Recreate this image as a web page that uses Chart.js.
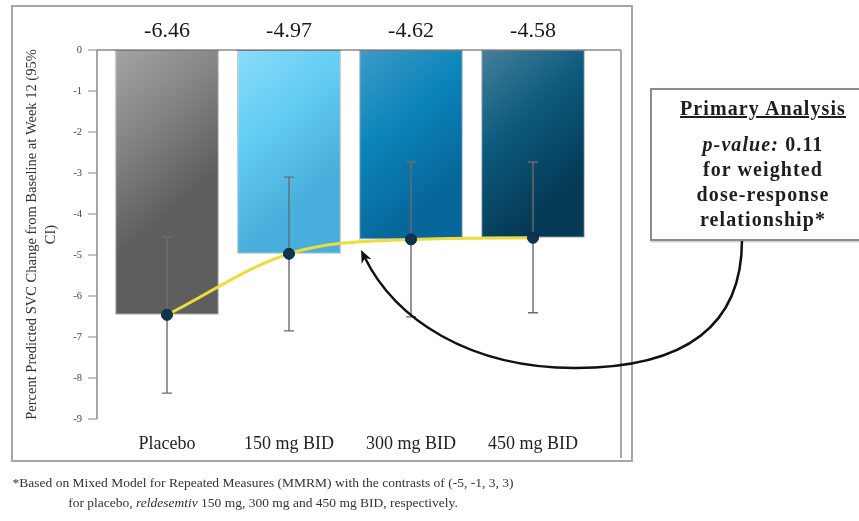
<!DOCTYPE html>
<html>
<head>
<meta charset="utf-8">
<script src="https://cdn.jsdelivr.net/npm/chart.js@4"></script>
<style>
  body { margin: 0; width: 859px; height: 521px; position: relative; overflow: hidden; background: #fff;
         font-family: "Liberation Serif", "Times New Roman", serif; }
  #frame { position: absolute; left: 11px; top: 5px; width: 618px; height: 453px; border: 2px solid #a6a6a6; }
  #wrap { position: absolute; left: 0; top: 0; width: 859px; height: 521px; }
  #box { position: absolute; left: 650px; top: 88px; width: 222px; height: 149px; border: 2px solid #8c8c8c;
         background: #fff; text-align: center; font-weight: bold; font-size: 20px; letter-spacing: 1.1px; color: #1e1e1e;
         box-shadow: 1px 1px 2px rgba(0,0,0,0.25); }
  #box .ttl { text-decoration: underline; margin-top: 5px; line-height: 26px; margin-bottom: 11px; }
  #box .ln { line-height: 25px; }
  #note { position: absolute; left: 0; width: 526px; top: 473px; text-align: center; font-size: 13.5px; line-height: 20px; color: #333; }
</style>
</head>
<body>
<div id="frame"></div>
<div id="wrap"><canvas id="chart" width="859" height="521"></canvas></div>
<div id="box">
  <div class="ttl">Primary Analysis</div>
  <div class="ln"><i>p-value:</i> 0.11</div>
  <div class="ln">for weighted</div>
  <div class="ln">dose-response</div>
  <div class="ln">relationship*</div>
</div>
<div id="note">*Based on Mixed Model for Repeated Measures (MMRM) with the contrasts of (-5, -1, 3, 3)<br>
for placebo, <i>reldesemtiv</i> 150 mg, 300 mg and 450 mg BID, respectively.</div>
<script>
var categories = ['Placebo', '150 mg BID', '300 mg BID', '450 mg BID'];
var meanChange = [-6.46, -4.97, -4.62, -4.58];
var ciLower = [-8.37, -6.85, -6.51, -6.41];
var ciUpper = [-4.56, -3.10, -2.73, -2.73];
var yMin = -9;
var yMax = 0;

// light -> mid -> dark, left to right
var barShades = [
  ['#a4a4a4', '#838383', '#5e5e5e'],
  ['#8adcf9', '#62ccf3', '#48aedb'],
  ['#3e9bc7', '#0b84ba', '#07679a'],
  ['#45809b', '#0c5a7d', '#053b57']
];

function barGradient(ctx) {
  const chart = ctx.chart;
  const i = ctx.dataIndex;
  const shades = barShades[i];
  if (!chart.chartArea || !chart.scales.x) return shades[1];
  const x = chart.scales.x.getPixelForValue(i);
  const top = chart.scales.y.getPixelForValue(0);
  const g = chart.ctx.createLinearGradient(x - 52, top, x + 52, top + 120);
  g.addColorStop(0, shades[0]);
  g.addColorStop(0.5, shades[1]);
  g.addColorStop(1, shades[2]);
  return g;
}

const decor = {
  id: 'decor',
  beforeDatasetsDraw(chart) {
    const c = chart.ctx;
    const y = chart.scales.y;
    const ax = chart.chartArea.left - 9;
    const y0 = y.getPixelForValue(0);
    c.save();
    c.strokeStyle = '#8a8a8a';
    c.lineWidth = 1.5;
    c.beginPath();
    // y axis line
    c.moveTo(ax, y0);
    c.lineTo(ax, y.getPixelForValue(yMin));
    // zero line across the plot
    c.moveTo(ax, y0);
    c.lineTo(621, y0);
    // right side of plot box
    c.moveTo(621, y0);
    c.lineTo(621, 458);
    c.stroke();
    c.lineWidth = 1.2;
    c.beginPath();
    for (let v = yMax; v >= yMin; v--) {
      const py = y.getPixelForValue(v);
      c.moveTo(ax - 9, py);
      c.lineTo(ax, py);
    }
    c.stroke();
    c.restore();
  },
  afterDatasetDraw(chart, args) {
    if (args.index !== 0) return;
    const c = chart.ctx;
    const x = chart.scales.x;
    const y = chart.scales.y;
    c.save();
    c.strokeStyle = '#6c6c6c';
    c.lineWidth = 1.4;
    for (let i = 0; i < categories.length; i++) {
      const px = x.getPixelForValue(i);
      const lo = y.getPixelForValue(ciLower[i]);
      const hi = y.getPixelForValue(ciUpper[i]);
      c.beginPath();
      c.moveTo(px, lo); c.lineTo(px, hi);
      c.moveTo(px - 5, lo); c.lineTo(px + 5, lo);
      c.moveTo(px - 5, hi); c.lineTo(px + 5, hi);
      c.stroke();
    }
    c.restore();
  },
  afterDraw(chart) {
    const c = chart.ctx;
    const x = chart.scales.x;
    c.save();
    // values above the bars
    c.fillStyle = '#1a1a1a';
    c.font = '22px "Liberation Serif", serif';
    c.textAlign = 'center';
    c.textBaseline = 'middle';
    for (let i = 0; i < categories.length; i++) {
      c.fillText(meanChange[i].toFixed(2), x.getPixelForValue(i), 31);
    }
    // curved arrow from the annotation box
    c.strokeStyle = '#111';
    c.lineWidth = 2.5;
    c.beginPath();
    c.moveTo(742, 240);
    c.bezierCurveTo(742, 330, 680, 368, 575, 368);
    c.bezierCurveTo(470, 368, 395, 320, 364, 256);
    c.stroke();
    const ang = Math.atan2(256 - 320, 364 - 395);
    const tipX = 361, tipY = 250;
    c.fillStyle = '#111';
    c.beginPath();
    c.moveTo(tipX, tipY);
    c.lineTo(tipX - 14 * Math.cos(ang - 0.4), tipY - 14 * Math.sin(ang - 0.4));
    c.lineTo(tipX - 9 * Math.cos(ang), tipY - 9 * Math.sin(ang));
    c.lineTo(tipX - 14 * Math.cos(ang + 0.4), tipY - 14 * Math.sin(ang + 0.4));
    c.closePath();
    c.fill();
    c.restore();
  }
};

new Chart(document.getElementById('chart'), {
  data: {
    labels: categories,
    datasets: [
      {
        type: 'bar',
        data: meanChange,
        backgroundColor: barGradient,
        borderColor: 'rgba(40,40,40,0.35)',
        borderWidth: 1,
        borderSkipped: false,
        barPercentage: 0.85,
        categoryPercentage: 1,
        order: 1
      },
      {
        type: 'line',
        data: meanChange,
        borderColor: '#efdc3c',
        borderWidth: 3,
        cubicInterpolationMode: 'monotone',
        pointRadius: 5.5,
        pointBackgroundColor: '#0d3550',
        pointBorderColor: '#0a2a40',
        pointBorderWidth: 1,
        order: 0
      }
    ]
  },
  options: {
    responsive: false,
    animation: false,
    layout: { padding: { left: 10, top: 50, right: 265, bottom: 62 } },
    plugins: { legend: { display: false }, tooltip: { enabled: false } },
    scales: {
      x: {
        grid: { display: false, drawTicks: false },
        border: { display: false },
        ticks: { color: '#222', padding: 14, font: { family: '"Liberation Serif", serif', size: 18 } },
        afterFit(scale) { scale.height = 40; }
      },
      y: {
        min: yMin,
        max: yMax,
        grid: { display: false, drawTicks: false },
        border: { display: false },
        ticks: { stepSize: 1, color: '#444', padding: 24, font: { family: '"Liberation Serif", serif', size: 10.5 } },
        title: {
          display: true,
          text: ['Percent Predicted SVC Change from Baseline at Week 12 (95%', 'CI)'],
          color: '#333',
          padding: { top: 12.5, bottom: 0 },
          font: { family: '"Liberation Serif", serif', size: 14.5, lineHeight: 1.3 }
        },
        afterFit(scale) { scale.width = 96; }
      }
    }
  },
  plugins: [decor]
});
</script>
</body>
</html>
